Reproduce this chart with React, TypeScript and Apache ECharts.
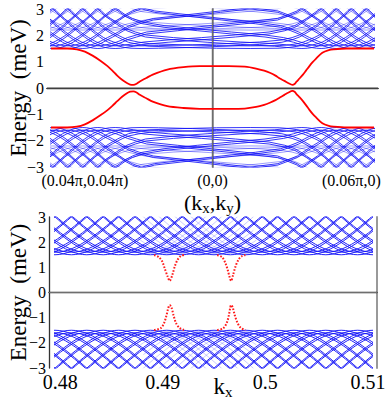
import React, { useEffect, useRef } from 'react';
import * as echarts from 'echarts';

// ---------------- data ----------------
// Top panel: path coordinate (-1 = (0.04π,0.04π), 0 = (0,0), 1 = (0.06π,0))
const topPathLabels = ['(0.04π,0.04π)', '(0,0)', '(0.06π,0)'];
const topPathLabelValues = [-0.79, 0, 0.86];
const energyMin = -3;
const energyMax = 3;

// Bottom panel kx tick labels
const kxTickValues = [0.48, 0.49, 0.5, 0.51];
const kxTickLabels = ['0.48', '0.49', '0.5', '0.51'];

// Bulk subband line shape (half profile): offset from the band minimum, energy (meV)
const profileDx = [0, 0.025, 0.05, 0.075, 0.1, 0.125, 0.15, 0.175, 0.2, 0.225, 0.25, 0.275, 0.3, 0.325, 0.35, 0.375, 0.4, 0.425, 0.45];
const profileE1 = [1.5, 1.51, 1.54, 1.589, 1.655, 1.737, 1.831, 1.937, 2.052, 2.175, 2.305, 2.44, 2.581, 2.725, 2.873, 3.023, 3.176, 3.332, 3.489];
const profileE2 = [1.6, 1.61, 1.638, 1.684, 1.746, 1.824, 1.914, 2.015, 2.126, 2.245, 2.371, 2.503, 2.64, 2.781, 2.926, 3.074, 3.225, 3.378, 3.533];
const profileE3 = [2.2, 2.207, 2.228, 2.262, 2.308, 2.366, 2.434, 2.512, 2.597, 2.691, 2.791, 2.897, 3.008, 3.124, 3.243, 3.366, 3.492, 3.62, 3.75];

// Top panel: subband minima along the band coordinate, and path -> band coordinate table
const topBandCentres = [-0.902, -0.809, -0.716, -0.623, -0.53, -0.437, -0.344, -0.251, -0.158, -0.065, 0.028, 0.121, 0.214, 0.307, 0.4, 0.493, 0.586, 0.679, 0.772, 0.865, 0.958];
const topStretchX = [-2, -0.66, -0.52, -0.4, 0.4, 0.52, 0.66, 2];
const topStretchU = [-1.541, -0.201, -0.096, -0.048, 0.048, 0.096, 0.201, 1.541];

// Top panel edge states (red)
const topEdgeUpper = [[-1, 1.5], [-0.9, 1.5], [-0.84, 1.47], [-0.79, 1.38], [-0.74, 1.22], [-0.69, 1.02], [-0.65, 0.83], [-0.62, 0.66], [-0.59, 0.47], [-0.56, 0.31], [-0.53, 0.19], [-0.51, 0.13], [-0.49, 0.115], [-0.47, 0.16], [-0.45, 0.25], [-0.41, 0.38], [-0.37, 0.51], [-0.28, 0.7], [-0.18, 0.79], [-0.08, 0.83], [0, 0.83], [0.1, 0.83], [0.2, 0.81], [0.27, 0.74], [0.32, 0.66], [0.355, 0.58], [0.39, 0.47], [0.417, 0.36], [0.445, 0.27], [0.468, 0.19], [0.495, 0.12], [0.51, 0.16], [0.52, 0.24], [0.54, 0.37], [0.56, 0.51], [0.58, 0.67], [0.6, 0.83], [0.62, 0.98], [0.64, 1.11], [0.68, 1.34], [0.72, 1.44], [0.75, 1.47], [0.83, 1.5], [1, 1.5]];
const topEdgeLower = [[-1, -1.5], [-0.9, -1.5], [-0.84, -1.47], [-0.79, -1.38], [-0.74, -1.22], [-0.69, -1.02], [-0.65, -0.84], [-0.62, -0.68], [-0.59, -0.5], [-0.56, -0.33], [-0.53, -0.2], [-0.51, -0.14], [-0.49, -0.125], [-0.47, -0.17], [-0.45, -0.26], [-0.41, -0.39], [-0.37, -0.52], [-0.28, -0.69], [-0.18, -0.76], [-0.08, -0.79], [0, -0.79], [0.1, -0.79], [0.2, -0.78], [0.27, -0.72], [0.32, -0.64], [0.355, -0.56], [0.39, -0.46], [0.417, -0.36], [0.445, -0.26], [0.468, -0.18], [0.495, -0.11], [0.51, -0.15], [0.52, -0.23], [0.54, -0.36], [0.56, -0.5], [0.58, -0.66], [0.6, -0.83], [0.62, -0.98], [0.64, -1.11], [0.68, -1.34], [0.72, -1.44], [0.75, -1.47], [0.83, -1.5], [1, -1.5]];

// Bottom panel: subband minima in kx, and scale of the profile to kx units
const bottomBandCentres = [0.4733, 0.4749, 0.4764, 0.478, 0.4795, 0.4811, 0.4826, 0.4842, 0.4857, 0.4873, 0.4888, 0.4904, 0.4919, 0.4935, 0.495, 0.4966, 0.4981, 0.4997, 0.5012, 0.5028, 0.5043, 0.5059, 0.5074, 0.509, 0.5105, 0.5121, 0.5136, 0.5152, 0.5167];
const bottomFaintCentres = [0.48805, 0.4896, 0.49115, 0.4927, 0.49425, 0.4958, 0.49735, 0.4989];
const bottomProfileScale = 0.016667;
const bottomFaintRange = [0.4878, 0.4992];

// Bottom panel edge states (red, dotted)
const bottomDipUpper1 = [[0.48916, 1.49], [0.48964, 1.4], [0.48997, 1.22], [0.49019, 0.96], [0.49046, 0.66], [0.49068, 0.46], [0.49094, 0.7], [0.49117, 1.03], [0.49143, 1.29], [0.49175, 1.45], [0.49207, 1.49]];
const bottomDipUpper2 = [[0.49531, 1.49], [0.4958, 1.4], [0.49612, 1.16], [0.49634, 0.89], [0.49653, 0.6], [0.49667, 0.46], [0.49686, 0.7], [0.49709, 1.03], [0.49741, 1.32], [0.49774, 1.45], [0.49806, 1.49]];
const bottomDipLower1 = [[0.48916, -1.49], [0.4898, -1.42], [0.49013, -1.22], [0.49037, -0.9], [0.49053, -0.63], [0.49068, -0.5], [0.49085, -0.59], [0.49105, -0.9], [0.49128, -1.2], [0.49161, -1.4], [0.49207, -1.49]];
const bottomDipLower2 = [[0.49531, -1.49], [0.4959, -1.42], [0.49625, -1.2], [0.49645, -0.9], [0.49657, -0.63], [0.49667, -0.5], [0.49682, -0.59], [0.49702, -0.9], [0.49728, -1.2], [0.4976, -1.4], [0.49806, -1.49]];

// ---------------- layout ----------------
const TOP_A = { left: 47, top: 9, width: 331, height: 158 };
const TOP_B = { left: 51, top: 9, width: 323, height: 158 };
const TOP_A_X = [-1.0248, 1.0248];
const TOP_B_X = [-1, 1];
const BOT_A = { left: 49, top: 217, width: 328, height: 151 };
const BOT_B = { left: 55, top: 217, width: 317, height: 151 };
const BOT_A_X = [0.478915, 0.510887];
const BOT_B_X = [0.4795, 0.5104];

const FONT = 'Liberation Serif';

function invStretch(u: number): number {
  const X = topStretchX, U = topStretchU;
  let j = 0;
  while (j < U.length - 2 && u > U[j + 1]) j++;
  return X[j] + ((u - U[j]) * (X[j + 1] - X[j])) / (U[j + 1] - U[j]);
}

function fullProfile(E: number[]): number[][] {
  const pts: number[][] = [];
  for (let i = profileDx.length - 1; i > 0; i--) pts.push([-profileDx[i], E[i]]);
  for (let i = 0; i < profileDx.length; i++) pts.push([profileDx[i], E[i]]);
  return pts;
}

function lineSeries(data: number[][], xi: number, yi: number, color: string, width: number, opacity = 1, extra: any = {}) {
  return {
    type: 'line', xAxisIndex: xi, yAxisIndex: yi, data, symbol: 'none', showSymbol: false,
    silent: true, clip: true, animation: false,
    lineStyle: { color, width, opacity, ...(extra.lineStyle || {}) },
    smooth: extra.smooth || false, z: extra.z || 2,
  };
}

function buildOption() {
  const series: any[] = [];
  const profiles = [fullProfile(profileE1), fullProfile(profileE2)];
  const profile3 = fullProfile(profileE3);
  const BLUE = '#1414f8';
  // top bulk bands
  for (const sign of [1, -1]) {
    for (const prof of profiles) {
      for (const c of topBandCentres) {
        const data = prof.map(([d, e]) => [invStretch(c + d), sign * e]);
        series.push(lineSeries(data, 2, 2, BLUE, 0.9, 0.95));
      }
    }
    for (const c of topBandCentres) {
      const data = profile3.map(([d, e]) => [invStretch(c + d), sign * e]);
      series.push(lineSeries(data, 2, 2, BLUE, 0.7, 0.6));
    }
  }
  // bottom bulk bands
  for (const sign of [1, -1]) {
    for (const prof of profiles) {
      for (const c of bottomBandCentres) {
        const data = prof.map(([d, e]) => [c + d * bottomProfileScale, sign * e]);
        series.push(lineSeries(data, 5, 5, BLUE, 1, 0.95));
      }
    }
    for (const c of bottomFaintCentres) {
      const data = profiles[0]
        .map(([d, e]) => [c + d * bottomProfileScale, sign * (e + 0.03)])
        .filter(([x]) => x >= bottomFaintRange[0] && x <= bottomFaintRange[1]);
      series.push(lineSeries(data, 5, 5, '#6a6aff', 0.6, 0.6));
    }
  }
  // zero lines
  series.push(lineSeries([[TOP_A_X[0], 0], [TOP_A_X[1], 0]], 0, 0, '#6e6e6e', 1, 1, { z: 3 }));
  series.push(lineSeries([[0, energyMin], [0, energyMax]], 0, 0, '#6e6e6e', 1, 1, { z: 3 }));
  series.push(lineSeries([[BOT_A_X[0], 0], [BOT_A_X[1], 0]], 3, 3, '#6e6e6e', 1, 1, { z: 3 }));
  // red edge states
  series.push(lineSeries(topEdgeUpper, 2, 2, '#ff0000', 1.8, 1, { smooth: 0.3, z: 4 }));
  series.push(lineSeries(topEdgeLower, 2, 2, '#ff0000', 1.8, 1, { smooth: 0.3, z: 4 }));
  for (const d of [bottomDipUpper1, bottomDipUpper2, bottomDipLower1, bottomDipLower2]) {
    series.push(lineSeries(d, 5, 5, '#ff1a1a', 2, 1, { smooth: 0.3, z: 4, lineStyle: { type: [1.6, 1.6] } }));
  }

  const yLabel = {
    show: true, fontFamily: FONT, fontSize: 16, color: '#000', margin: 3,
    formatter: (v: number) => (v < 0 ? '\u2212' + String(-v) : String(v)),
  };
  const nameStyle = { fontFamily: FONT, fontSize: 23, color: '#000' };
  const subRich = { s: { fontFamily: FONT, fontSize: 15, color: '#000', padding: [11, 0, 0, 0] } };
  const hidden = (gi: number, mm: number[]) => ({ type: 'value', gridIndex: gi, min: mm[0], max: mm[1], show: false });
  const hiddenY = (gi: number) => ({ type: 'value', gridIndex: gi, min: energyMin, max: energyMax, show: false });
  const darkLine = { show: true, lineStyle: { color: '#333', width: 1.3 } };
  const greyRight = { show: true, lineStyle: { color: '#999', width: 2 } };
  const g = (r: any) => ({ ...r, containLabel: false, outerBoundsMode: 'none' });

  return {
    animation: false,
    textStyle: { fontFamily: FONT },
    grid: [g(TOP_A), g(TOP_B), g(BOT_A), g(BOT_B)],
    xAxis: [
      {
        type: 'value', gridIndex: 0, min: TOP_A_X[0], max: TOP_A_X[1], position: 'bottom',
        axisLine: darkLine, axisTick: { show: false }, splitLine: { show: false },
        axisLabel: {
          show: true, customValues: topPathLabelValues, fontFamily: FONT, fontSize: 16, color: '#000', margin: 5,
          formatter: (v: number) => {
            const i = topPathLabelValues.findIndex((t) => Math.abs(t - v) < 1e-6);
            return i >= 0 ? topPathLabels[i] : '';
          },
        },
        name: '(k{s|x},k{s|y})', nameLocation: 'middle', nameGap: 22, nameMoveOverlap: false,
        nameTextStyle: { ...nameStyle, fontSize: 22, rich: subRich },
      },
      {
        type: 'value', gridIndex: 0, min: TOP_A_X[0], max: TOP_A_X[1], position: 'top',
        axisLine: { show: true, lineStyle: { color: '#111', width: 1 } }, axisTick: { show: false },
        axisLabel: { show: false }, splitLine: { show: false },
      },
      hidden(1, TOP_B_X),
      {
        type: 'value', gridIndex: 2, min: BOT_A_X[0], max: BOT_A_X[1], position: 'bottom',
        axisLine: darkLine, axisTick: { show: false }, splitLine: { show: false },
        axisLabel: {
          show: true, customValues: kxTickValues, fontFamily: FONT, fontSize: 20, color: '#000', margin: 4,
          formatter: (v: number) => {
            const i = kxTickValues.findIndex((t) => Math.abs(t - v) < 1e-9);
            return i >= 0 ? kxTickLabels[i] : '';
          },
        },
        name: 'k{s|x}', nameLocation: 'middle', nameGap: 5, nameMoveOverlap: false,
        nameTextStyle: { ...nameStyle, rich: subRich, padding: [0, 0, 0, 20] },
      },
      {
        type: 'value', gridIndex: 2, min: BOT_A_X[0], max: BOT_A_X[1], position: 'top',
        axisLine: { show: true, lineStyle: { color: '#555', width: 1 } }, axisTick: { show: false },
        axisLabel: { show: false }, splitLine: { show: false },
      },
      hidden(3, BOT_B_X),
    ],
    yAxis: [
      {
        type: 'value', gridIndex: 0, min: energyMin, max: energyMax, interval: 1, position: 'left',
        axisLine: darkLine, axisTick: { show: false }, splitLine: { show: false }, axisLabel: yLabel,
        name: 'Energy  (meV)', nameLocation: 'middle', nameRotate: 90, nameGap: 17, nameMoveOverlap: false,
        nameTextStyle: nameStyle,
      },
      {
        type: 'value', gridIndex: 0, min: energyMin, max: energyMax, position: 'right',
        axisLine: greyRight, axisTick: { show: false }, axisLabel: { show: false }, splitLine: { show: false },
      },
      hiddenY(1),
      {
        type: 'value', gridIndex: 2, min: energyMin, max: energyMax, interval: 1, position: 'left',
        axisLine: darkLine, axisTick: { show: false }, splitLine: { show: false }, axisLabel: yLabel,
        name: 'Energy  (meV)', nameLocation: 'middle', nameRotate: 90, nameGap: 19, nameMoveOverlap: false,
        nameTextStyle: nameStyle,
      },
      {
        type: 'value', gridIndex: 2, min: energyMin, max: energyMax, position: 'right',
        axisLine: greyRight, axisTick: { show: false }, axisLabel: { show: false }, splitLine: { show: false },
      },
      hiddenY(3),
    ],
    series,
  };
}

export default function App() {
  const ref = useRef<HTMLDivElement>(null);
  useEffect(() => {
    if (!ref.current) return;
    const chart = echarts.init(ref.current, undefined, { renderer: 'svg' });
    chart.setOption(buildOption() as any);
    return () => chart.dispose();
  }, []);
  return (
    <div
      ref={ref}
      style={{ position: 'absolute', left: 0, top: 0, width: 390, height: 398, background: '#fff' }}
    />
  );
}
